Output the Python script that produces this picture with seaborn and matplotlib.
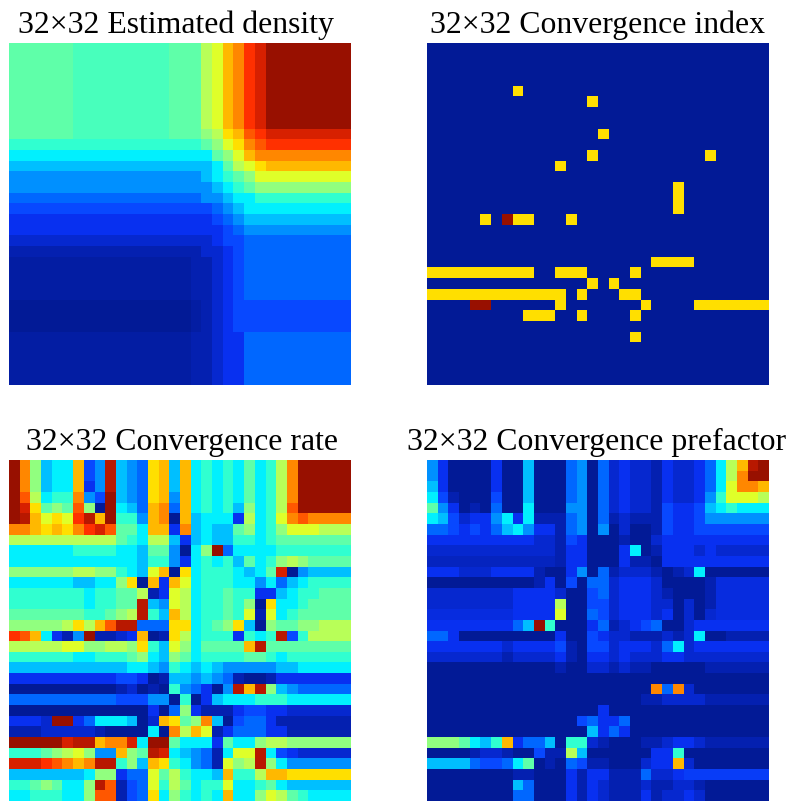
import numpy as np
import matplotlib
matplotlib.use("Agg")
import matplotlib.pyplot as plt
from matplotlib.colors import LinearSegmentedColormap
import seaborn as sns

LEVELS = "0123456789abcdefghijkl"
HALF_LEVELS = {"A": 0.5, "B": 1.5, "C": 2.5, "D": 3.5, "E": 9.5}
COLORS = ["#021a96", "#0420b0", "#0628d0", "#0830f0", "#0848ff", "#0068ff", "#0090ff", "#00c0ff",
          "#00f0ff", "#30ffd0", "#60ffa8", "#90ff80", "#b8ff58", "#e0ff28", "#ffe000", "#ffb800",
          "#ff8800", "#ff5800", "#ff3000", "#d82000", "#b81800", "#981000"]

density = [
    "aaaaaaEEEEEEEEEaaa" "cdfgijllllllll",
    "aaaaaaEEEEEEEEEaaa" "cdfgijllllllll",
    "aaaaaaEEEEEEEEEaaa" "cdfgijllllllll",
    "aaaaaaEEEEEEEEEaaa" "cdfgijllllllll",
    "aaaaaaEEEEEEEEEaaa" "cdfgijllllllll",
    "aaaaaaEEEEEEEEEaaa" "cdfgijllllllll",
    "aaaaaaEEEEEEEEEaaa" "cdfgijllllllll",
    "aaaaaaEEEEEEEEEaaa" "cdfgijllllllll",
    "aaaaaaEEEEEEEEEaaa" "bcefhijjjjjjjj",
    "999999999999999999" "abdeghiiiiiiii",
    "888888888888888888" "8abdfggggggggg",
    "777777777777777777" "78acdeffffffff",
    "666666666666666666" "789abddddddddd",
    "666666666666666666" "6789abbbbbbbbb",
    "555555555555555555" "66788999999999",
    "444444444444444444" "45678888888888",
    "333333333333333333" "34567777777777",
    "333333333333333333" "33456666666666",
    "222222222222222222" "23445555555555",
    "111111111111111111" "22345555555555",
    "AAAAAAAAAAAAAAAAA1" "12345555555555",
    "AAAAAAAAAAAAAAAAA1" "12345555555555",
    "AAAAAAAAAAAAAAAAA1" "12345555555555",
    "AAAAAAAAAAAAAAAAA1" "12345555555555",
    "00000000000000000A" "12344444444444",
    "00000000000000000A" "12344444444444",
    "00000000000000000A" "12344444444444",
    "AAAAAAAAAAAAAAAAA1" "12335555555555",
    "AAAAAAAAAAAAAAAAA1" "12335555555555",
    "AAAAAAAAAAAAAAAAA1" "12335555555555",
    "AAAAAAAAAAAAAAAAA1" "12335555555555",
    "AAAAAAAAAAAAAAAAA1" "12335555555555",
]

index_map = [
    "0000000000000000" "0000000000000000",
    "0000000000000000" "0000000000000000",
    "0000000000000000" "0000000000000000",
    "0000000000000000" "0000000000000000",
    "00000000e0000000" "0000000000000000",
    "000000000000000e" "0000000000000000",
    "0000000000000000" "0000000000000000",
    "0000000000000000" "0000000000000000",
    "0000000000000000" "e000000000000000",
    "0000000000000000" "0000000000000000",
    "000000000000000e" "0000000000e00000",
    "000000000000e000" "0000000000000000",
    "0000000000000000" "0000000000000000",
    "0000000000000000" "0000000e00000000",
    "0000000000000000" "0000000e00000000",
    "0000000000000000" "0000000e00000000",
    "00000e0lee000e00" "0000000000000000",
    "0000000000000000" "0000000000000000",
    "0000000000000000" "0000000000000000",
    "0000000000000000" "0000000000000000",
    "0000000000000000" "00000eeee0000000",
    "eeeeeeeeee00eee0" "000e000000000000",
    "000000000000000e" "0e00000000000000",
    "eeeeeeeeeeeee0e0" "00ee000000000000",
    "0000ll000000e000" "0000e0000eeeeeee",
    "000000000eee00e0" "000e000000000000",
    "0000000000000000" "0000000000000000",
    "0000000000000000" "000e000000000000",
    "0000000000000000" "0000000000000000",
    "0000000000000000" "0000000000000000",
    "0000000000000000" "0000000000000000",
    "0000000000000000" "0000000000000000",
]

rate = [
    "lgb788f46k765ef7" "f89898a89cglllll",
    "lgb788f46k765ef7" "f89898a89cglllll",
    "lgb788f36k765ef7" "f89898a89cglllll",
    "lhc899g64l765ef6" "f89898a89cglllll",
    "ljeabahb0l875fg5" "f89897b89chlllll",
    "lkfdedikfl996fg0" "f78883c89dghgggg",
    "ggfefegijhaa8ff3" "g7877ab89bdddccc",
    "cccccccccca98cc7" "378779989aaaaaaa",
    "8888889999887aa6" "08bl588889999999",
    "8888888888887996" "389897a89bcbaaaa",
    "bbbbbbccbb987df0" "e8999878aj067777",
    "8888887788be0f3f" "d899988685789999",
    "9999999899aac13d" "c899a99337899aaa",
    "9999999899aak76d" "c899a9b0e889aaaa",
    "aaaaaaa99abck97f" "c899a9d1d89aaaaa",
    "bbbbbcecfhkk555e" "e89abe70baabbccc",
    "ihf8316l1123f01e" "c89993989k49cccc",
    "cccccddbbccbe97d" "b8aaaafkaaaaaaaa",
    "99999988999ab87b" "a89999aa98999999",
    "7777777777788769" "8787666667788888",
    "3333333333443017" "7676510013333333",
    "0000000000120109" "65306kfkb7655555",
    "5555555555444660" "9037888999888888",
    "0000000000000305" "b311134433222222",
    "3332ll35888702fe" "abg7045531111111",
    "111222221000080g" "cfd1355533111111",
    "llllljkkfggj8lla" "8883a88bccbbbbbb",
    "999abcdb66fbakj8" "76518ddk84322222",
    "jjjihgfgkk9b7fe9" "8651dbckb8666666",
    "77777778bb355dac" "9887f99cffeeeeee",
    "99aba88bkh145d9c" "a899d889a8777777",
    "8899988bhh145e8b" "9898f88bdca98888",
]

prefactor = [
    "6300003007000560" "523221322358cfkl",
    "6300003007000560" "523221322358cgll",
    "7300003007000560" "523221322358dggf",
    "8410004007000560" "523221322369dddc",
    "a630105008000660" "5232214334789888",
    "8742336838111560" "5121114334666666",
    "5543435786331560" "6020014334444444",
    "3333333333221430" "0010023333333333",
    "2222222222221330" "0038013332322222",
    "BBBBBBBBBBBB1330" "0031103333333333",
    "3332223333100360" "5122210128000000",
    "0000000000130405" "52333200001CCCCC",
    "2222222233332004" "52333210001CCCCC",
    "222222223333c004" "42333220201CCCCC",
    "CCCCCCCC3333d005" "42333230202CCCCC",
    "3333333357l90003" "5123450023333333",
    "5530000000003004" "3221112128001111",
    "3333333233334104" "4233325823333333",
    "2222222122223103" "3232223322222222",
    "0000000000001002" "2121100000111111",
    "0000000000000000" "0000000000000000",
    "0000000000000000" "00000g5g20000000",
    "0000000000000000" "0000112222111111",
    "0000000000000000" "3000000000000000",
    "0000000000000045" "3350000000000000",
    "0000000000000007" "3530000000000000",
    "bbba879f35570992" "1000112332111111",
    "0000122100411c70" "0000033900000000",
    "777754458a010541" "1000233f20000000",
    "0000000011000313" "31115223DDDDDDDD",
    "0000000075000313" "2111211221000000",
    "0000000055000313" "2111312232000000",
]

titles = ["32×32 Estimated density", "32×32 Convergence index",
          "32×32 Convergence rate", "32×32 Convergence prefactor"]


def level(c):
    return HALF_LEVELS[c] if c in HALF_LEVELS else LEVELS.index(c)


def to_grid(rows):
    for i, r in enumerate(rows):
        assert len(r) == 32, (i, r, len(r))
    assert len(rows) == 32
    return np.array([[level(c) for c in r] for r in rows], dtype=float)


W, H = 790, 801
cmap = LinearSegmentedColormap.from_list("jetlike", COLORS, N=512)
fig = plt.figure(figsize=(W / 100, H / 100), dpi=100, facecolor="white")
boxes = [(9, 43), (427, 43), (9, 460), (427, 460)]
title_x = [175.5, 598, 182, 596.5]
for rows, (x0, y0), t, tx in zip([density, index_map, rate, prefactor], boxes, titles, title_x):
    side = 342 if y0 == 43 else 341
    ax = fig.add_axes([x0 / W, 1 - (y0 + side) / H, 342 / W, side / H])
    sns.heatmap(to_grid(rows), ax=ax, cmap=cmap, vmin=0, vmax=len(LEVELS) - 1, cbar=False,
                xticklabels=False, yticklabels=False, square=False)
    ax.set_xlabel("")
    ax.set_ylabel("")
    fig.text(tx / W, 1 - (y0 - 10) / H, t, ha="center", va="baseline",
             family="Liberation Serif", fontsize=22.9, color="black")

fig.savefig("out.png", dpi=100, facecolor="white")
